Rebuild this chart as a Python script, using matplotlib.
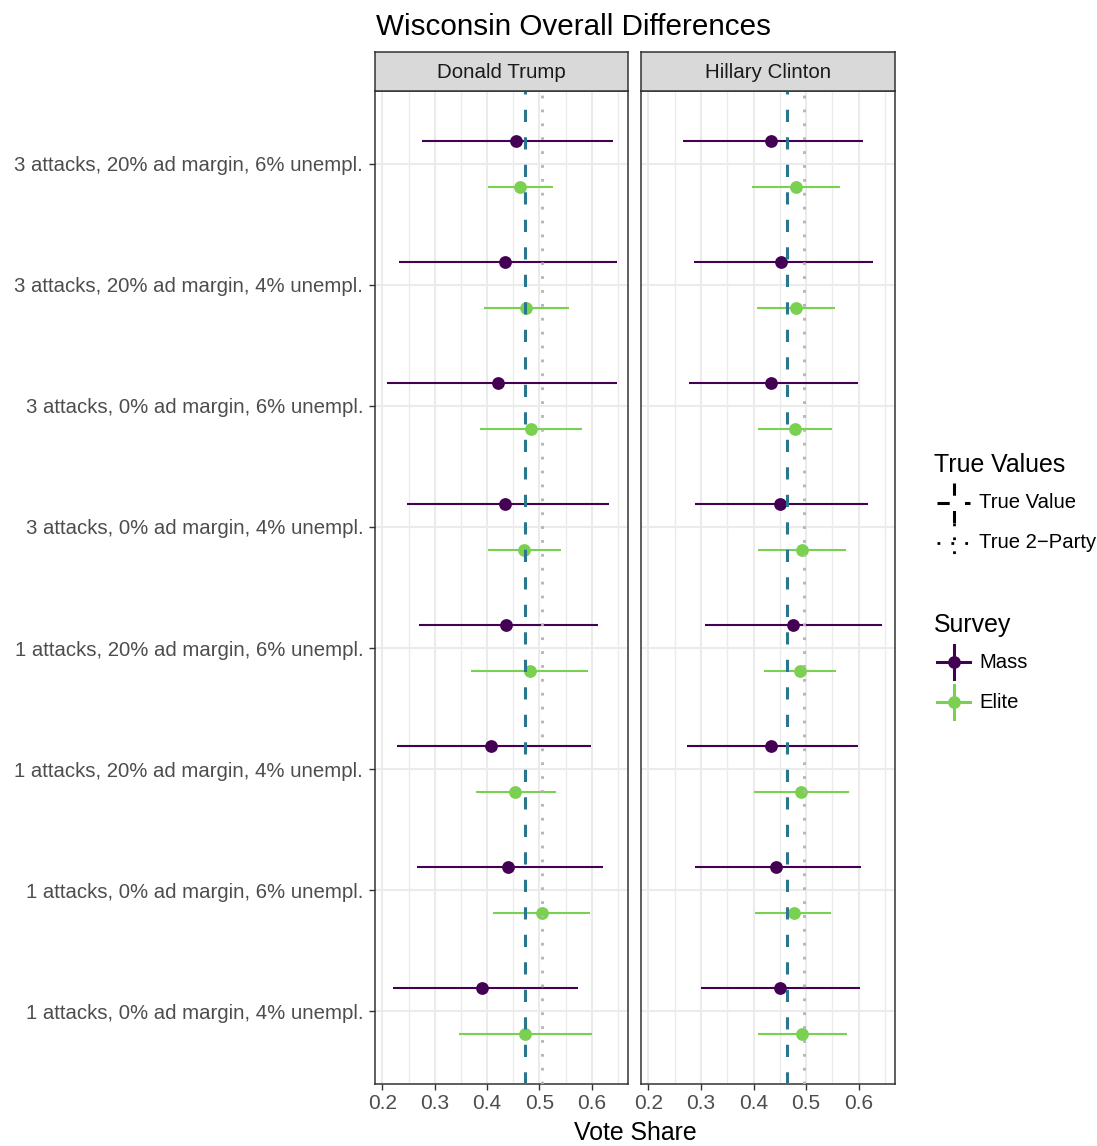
import matplotlib
matplotlib.use('Agg')
import matplotlib.pyplot as plt
import numpy as np
from matplotlib.lines import Line2D

plt.rcParams['font.family'] = ['Liberation Sans', 'DejaVu Sans']

# scenarios, listed top to bottom as they appear on the axis
scenarios = [
    '3 attacks, 20% ad margin, 6% unempl.',
    '3 attacks, 20% ad margin, 4% unempl.',
    '3 attacks, 0% ad margin, 6% unempl.',
    '3 attacks, 0% ad margin, 4% unempl.',
    '1 attacks, 20% ad margin, 6% unempl.',
    '1 attacks, 20% ad margin, 4% unempl.',
    '1 attacks, 0% ad margin, 6% unempl.',
    '1 attacks, 0% ad margin, 4% unempl.',
]
candidates = ['Donald Trump', 'Hillary Clinton']
surveys = ['Mass', 'Elite']

# estimate, lower, upper per scenario
trump_mass = [0.456, 0.434, 0.421, 0.435, 0.437, 0.408, 0.440, 0.390]
trump_mass_lo = [0.276, 0.231, 0.209, 0.247, 0.270, 0.228, 0.266, 0.220]
trump_mass_hi = [0.641, 0.648, 0.648, 0.632, 0.611, 0.599, 0.621, 0.573]
trump_elite = [0.462, 0.475, 0.483, 0.471, 0.481, 0.454, 0.504, 0.473]
trump_elite_lo = [0.401, 0.395, 0.386, 0.402, 0.370, 0.378, 0.411, 0.347]
trump_elite_hi = [0.525, 0.556, 0.582, 0.541, 0.592, 0.531, 0.597, 0.601]

clinton_mass = [0.433, 0.453, 0.434, 0.451, 0.475, 0.433, 0.443, 0.450]
clinton_mass_lo = [0.265, 0.287, 0.278, 0.288, 0.307, 0.274, 0.288, 0.300]
clinton_mass_hi = [0.608, 0.627, 0.598, 0.618, 0.644, 0.599, 0.604, 0.603]
clinton_elite = [0.481, 0.480, 0.478, 0.493, 0.488, 0.491, 0.476, 0.493]
clinton_elite_lo = [0.398, 0.407, 0.408, 0.409, 0.420, 0.401, 0.403, 0.408]
clinton_elite_hi = [0.564, 0.554, 0.549, 0.576, 0.557, 0.582, 0.547, 0.577]

true_value = [0.4722, 0.4645]
true_two_party = [0.5041, 0.4959]

MASS = '#440154'
ELITE = '#7AD151'
TRUE_COLOR = '#2A768E'
TWO_PARTY_COLOR = '#B3B3B3'
FRAME = '#333333'
GRID = '#EBEBEB'
TICK_TEXT = '#4D4D4D'

W, H = 1097, 1146
fig = plt.figure(figsize=(W / 100, H / 100), dpi=100)


def fig_box(x0, y0, x1, y1):
    return [x0 / W, 1 - y1 / H, (x1 - x0) / W, (y1 - y0) / H]


panels = {
    'Donald Trump': (trump_mass, trump_mass_lo, trump_mass_hi,
                     trump_elite, trump_elite_lo, trump_elite_hi),
    'Hillary Clinton': (clinton_mass, clinton_mass_lo, clinton_mass_hi,
                        clinton_elite, clinton_elite_lo, clinton_elite_hi),
}
boxes = [(375, 91, 628, 1084), (641, 91, 895, 1084)]

n = len(scenarios)
ypos = np.arange(n)[::-1]
dodge = 0.19

for k, (name, box) in enumerate(zip(candidates, boxes)):
    ax = fig.add_axes(fig_box(*box))
    m, mlo, mhi, e, elo, ehi = panels[name]
    ax.set_xlim(0.186, 0.669)
    ax.set_ylim(-0.6, n - 0.4)
    ax.set_xticks([0.2, 0.3, 0.4, 0.5, 0.6])
    ax.set_xticks([0.25, 0.35, 0.45, 0.55, 0.65], minor=True)
    ax.set_yticks(ypos)
    ax.grid(which='major', color=GRID, linewidth=1.45, zorder=0)
    ax.grid(which='minor', axis='x', color=GRID, linewidth=0.95, zorder=0)
    ax.set_axisbelow(True)

    for est, lo, hi, color, off in [(m, mlo, mhi, MASS, dodge), (e, elo, ehi, ELITE, -dodge)]:
        y = ypos + off
        ax.hlines(y, lo, hi, color=color, linewidth=1.5, zorder=2)
        ax.plot(est, y, 'o', color=color, markersize=9.2, markeredgewidth=0, zorder=3)

    ax.axvline(true_value[k], color=TRUE_COLOR, linewidth=2.2, dashes=(4, 5), zorder=4)
    ax.axvline(true_two_party[k], color=TWO_PARTY_COLOR, linewidth=2.0, dashes=(1, 4), zorder=4)

    for s in ax.spines.values():
        s.set_color(FRAME)
        s.set_linewidth(1.1)
    ax.tick_params(which='major', length=4, width=1.0, color=FRAME, labelcolor=TICK_TEXT,
                   labelsize=15, pad=3)
    ax.tick_params(axis='y', labelsize=14.7, pad=4.5)
    ax.tick_params(which='minor', length=0)
    ax.set_xticklabels(['0.2', '0.3', '0.4', '0.5', '0.6'])
    if k == 0:
        ax.set_yticklabels(scenarios)
    else:
        ax.tick_params(axis='y', length=0, labelleft=False)

    # facet strip
    sx = fig.add_axes(fig_box(box[0], 52, box[2], 91))
    sx.set_facecolor('#D9D9D9')
    sx.set_xticks([])
    sx.set_yticks([])
    for s in sx.spines.values():
        s.set_color(FRAME)
        s.set_linewidth(1.1)
    sx.text(0.5, 0.48, name, ha='center', va='center', fontsize=14.8, color='#1A1A1A',
            transform=sx.transAxes)

fig.text(376 / W, 1 - 27 / H, 'Wisconsin Overall Differences', ha='left', va='center',
         fontsize=21.3, color='black')
fig.text(635 / W, 1 - 1133 / H, 'Vote Share', ha='center', va='center', fontsize=17.9,
         color='black')

# legends, laid out in pixel coordinates
lg = fig.add_axes([0, 0, 1, 1], facecolor='none')
lg.set_xlim(0, W)
lg.set_ylim(H, 0)
lg.axis('off')

lg.text(934, 465, 'True Values', ha='left', va='center', fontsize=17.9)
for label, yc, dash, lw in [('True Value', 503, (4, 5), 2.2), ('True 2\u2212Party', 543, (1, 4), 2.0)]:
    lg.add_line(Line2D([937, 970], [yc, yc], color='black', linewidth=lw, dashes=dash))
    lg.add_line(Line2D([953.5, 953.5], [yc - 20, yc + 20], color='black', linewidth=lw, dashes=dash))
    lg.text(979, yc, label, ha='left', va='center', fontsize=14.6)

lg.text(934, 625, 'Survey', ha='left', va='center', fontsize=17.9)
for label, yc, color in [('Mass', 662, MASS), ('Elite', 702, ELITE)]:
    lg.add_line(Line2D([937, 970], [yc, yc], color=color, linewidth=2.2))
    lg.add_line(Line2D([953.5, 953.5], [yc - 17, yc + 17], color=color, linewidth=2.2))
    lg.plot(953.5, yc, 'o', color=color, markersize=9.2, markeredgewidth=0)
    lg.text(979, yc, label, ha='left', va='center', fontsize=14.6)

fig.savefig('out.png', dpi=100, facecolor='white')
